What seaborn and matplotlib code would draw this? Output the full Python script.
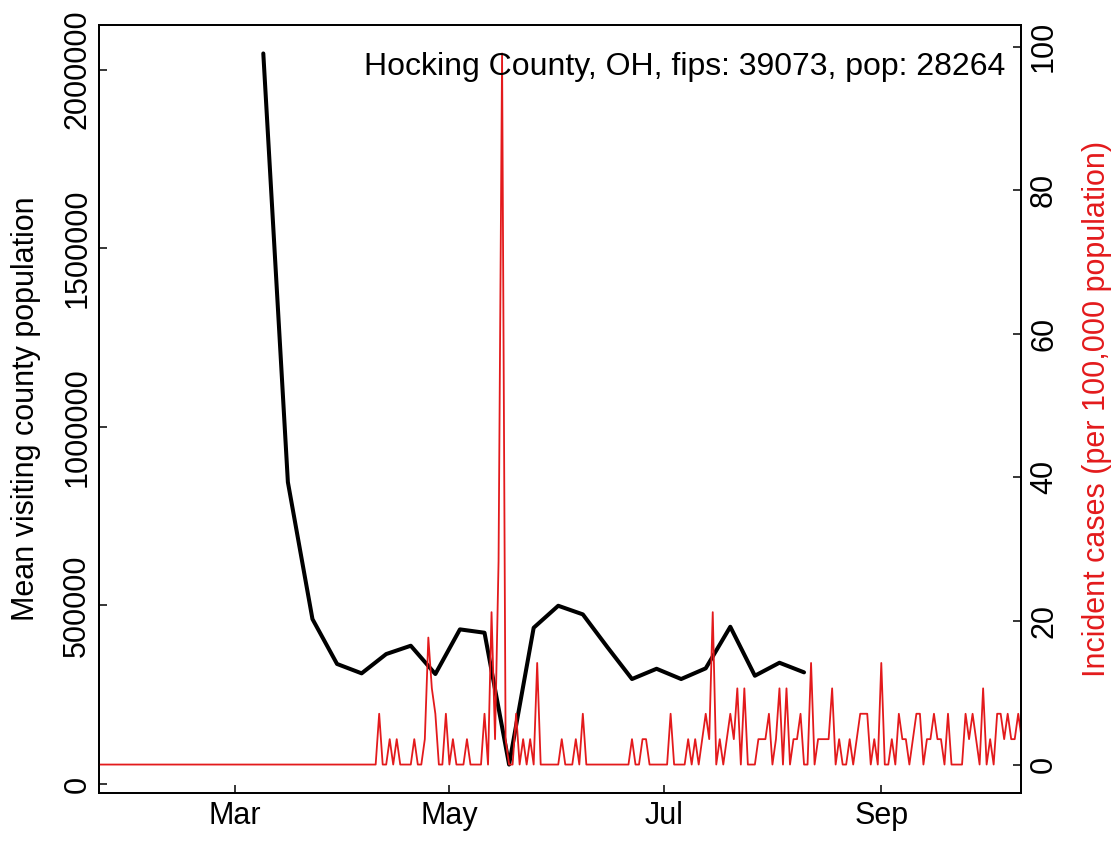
import pandas as pd
import matplotlib
matplotlib.use('Agg')
import matplotlib.pyplot as plt
import matplotlib.dates as mdates
from matplotlib.ticker import FuncFormatter
import seaborn as sns

county_label = 'Hocking County, OH, fips: 39073, pop: 28264'
population = 28264

# weekly mean visiting county population (Mondays from 2020-03-09)
visit_weeks = pd.date_range('2020-03-09', periods=23, freq='7D')
mean_visiting_pop = [2045000, 845000, 461700, 336000, 309700, 363700, 387000,
                     307800, 432800, 423400, 54400, 437300, 498900, 474800,
                     383000, 293800, 322500, 293800, 323700, 440100, 303000,
                     339400, 312500]

# daily new cases, 2020-01-22 .. 2020-10-11 (nothing before Apr 11)
case_days = pd.date_range('2020-01-22', '2020-10-11', freq='D')
daily_cases = [0] * 80 + [
    2, 0, 0, 1, 0, 1, 0, 0, 0, 0,
    1, 0, 0, 1, 5, 3, 2, 0, 0, 2,
    0, 1, 0, 0, 0, 1, 0, 0, 0, 0,
    2, 0, 6, 1, 8, 28, 1, 0, 0, 2,
    0, 1, 0, 1, 0, 4, 0, 0, 0, 0,
    0, 0, 1, 0, 0, 0, 1, 0, 2, 0,
    0, 0, 0, 0, 0, 0, 0, 0, 0, 0,
    0, 0, 1, 0, 0, 1, 1, 0, 0, 0,
    0, 0, 0, 2, 0, 0, 0, 0, 1, 0,
    1, 0, 1, 2, 1, 6, 0, 1, 0, 1,
    2, 1, 3, 0, 3, 0, 0, 0, 1, 1,
    1, 2, 0, 1, 3, 0, 3, 0, 1, 1,
    2, 0, 0, 4, 0, 1, 1, 1, 1, 3,
    0, 1, 0, 0, 1, 0, 1, 2, 2, 2,
    0, 1, 0, 4, 0, 0, 1, 0, 2, 1,
    1, 0, 1, 2, 2, 0, 1, 1, 2, 1,
    1, 0, 2, 0, 0, 0, 0, 2, 1, 2,
    1, 0, 3, 0, 1, 0, 2, 2, 1, 2,
    1, 1, 2, 1]

visits = pd.DataFrame({'date': visit_weeks, 'visitors': mean_visiting_pop})
cases = pd.DataFrame({'date': case_days, 'cases': daily_cases})
cases['incidence'] = cases['cases'] / population * 1e5

sns.set_theme(style='ticks')
plt.rcParams['font.family'] = ['Liberation Sans', 'DejaVu Sans']
plt.rcParams.update({'text.color': 'black', 'axes.labelcolor': 'black',
                     'xtick.color': 'black', 'ytick.color': 'black'})

red = '#E31A1C'
fs = 22

fig = plt.figure(figsize=(11.19, 8.42), dpi=100)
ax = fig.add_axes([0.0887, 0.0582, 0.8235, 0.9121])
ax2 = ax.twinx()

sns.lineplot(data=visits, x='date', y='visitors', ax=ax, color='black',
             linewidth=2.9, estimator=None)
sns.lineplot(data=cases, x='date', y='incidence', ax=ax2, color=red,
             linewidth=1.3, estimator=None)


def padded(lo, hi, frac=0.04):
    # R style 4% axis expansion
    span = hi - lo
    return lo - frac * span, hi + frac * span


x0 = mdates.date2num(pd.Timestamp('2020-02-01'))
x1 = mdates.date2num(pd.Timestamp('2020-10-01'))
ax.set_xlim(padded(x0, x1))
ax.set_ylim(padded(min(mean_visiting_pop), max(mean_visiting_pop)))
ax2.set_ylim(padded(0, cases['incidence'].max()))

ax.xaxis.set_major_locator(mdates.MonthLocator(bymonth=[3, 5, 7, 9]))
ax.xaxis.set_major_formatter(mdates.DateFormatter('%b'))
ax.set_yticks(range(0, 2000001, 500000))
ax.yaxis.set_major_formatter(FuncFormatter(lambda v, p: f'{int(v)}'))
ax2.set_yticks(range(0, 101, 20))

for a in (ax, ax2):
    a.tick_params(direction='in', length=5.8, width=1.1, labelsize=fs,
                  colors='black', pad=5)
    for s in a.spines.values():
        s.set_color('black')
        s.set_linewidth(1.3)
ax.tick_params(axis='x', pad=6)
ax.tick_params(axis='y', labelrotation=90)
ax2.tick_params(axis='y', labelrotation=90, pad=6)
plt.setp(ax.get_yticklabels(), va='center')
plt.setp(ax2.get_yticklabels(), va='center')

ax.set_xlabel('')
ax.set_ylabel('Mean visiting county population', fontsize=fs, color='black')
ax.yaxis.set_label_coords(-0.0633, 0.5)
ax2.set_ylabel('Incident cases (per 100,000 population)', fontsize=fs, color=red)
ax2.yaxis.set_label_coords(1.0665, 0.5)

ax2.text(0.983, 0.935, county_label, transform=ax2.transAxes,
         ha='right', va='baseline', fontsize=23, color='black')

fig.savefig('out.png', dpi=100)
